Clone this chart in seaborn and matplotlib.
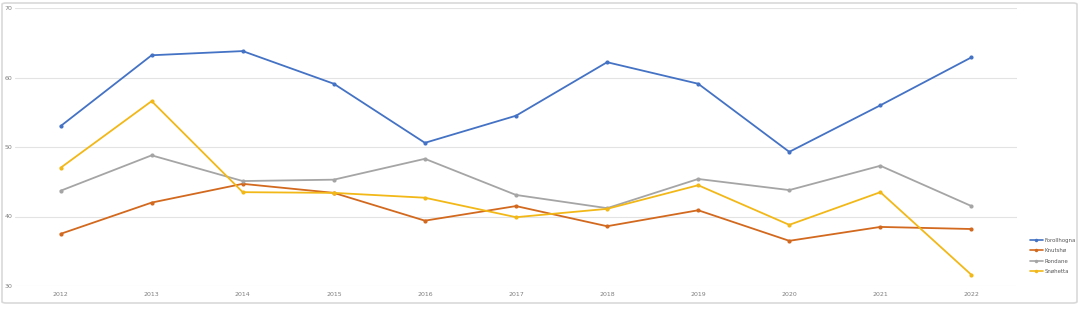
import matplotlib
matplotlib.use("Agg")
import matplotlib.pyplot as plt
from matplotlib.patches import FancyBboxPatch
import seaborn as sns
import pandas as pd

years = [2012, 2013, 2014, 2015, 2016, 2017, 2018, 2019, 2020, 2021, 2022]
forollhogna = [53.0, 63.2, 63.8, 59.1, 50.6, 54.5, 62.2, 59.1, 49.3, 56.0, 62.9]
knutsho = [37.5, 42.0, 44.7, 43.4, 39.4, 41.5, 38.6, 40.9, 36.5, 38.5, 38.2]
rondane = [43.7, 48.8, 45.1, 45.3, 48.3, 43.1, 41.2, 45.4, 43.8, 47.3, 41.5]
snohetta = [47.0, 56.6, 43.5, 43.4, 42.7, 39.9, 41.1, 44.5, 38.8, 43.5, 31.6]

series_names = ["Forollhogna", "Knutshø", "Rondane", "Snøhetta"]
series_values = [forollhogna, knutsho, rondane, snohetta]
colors = ["#4472C4", "#D2691E", "#A5A5A5", "#F2B818"]
y_ticks = [30, 40, 50, 60, 70]

rows = []
for name, vals in zip(series_names, series_values):
    for yr, v in zip(years, vals):
        rows.append({"År": yr, "Verdi": v, "Område": name})
df = pd.DataFrame(rows)

sns.set_theme(style="white")
plt.rcParams["font.family"] = ["DejaVu Sans"]

fig = plt.figure(figsize=(10.8, 3.22), dpi=100)
fig.patch.set_facecolor("white")

# chart frame
frame = FancyBboxPatch((2 / 1080, 19 / 322), 1075 / 1080, 300 / 322,
                       boxstyle="round,pad=0,rounding_size=0.004",
                       transform=fig.transFigure, facecolor="none",
                       edgecolor="#D9D9D9", linewidth=1.2, zorder=-1)
fig.patches.append(frame)

ax = fig.add_axes([15 / 1080, 36 / 322, 1002 / 1080, 278 / 322])
ax.set_facecolor("none")
ax.set_zorder(2)

sns.lineplot(data=df, x="År", y="Verdi", hue="Område", palette=colors,
             marker="o", markersize=3, markeredgewidth=0, linewidth=1.3,
             ax=ax, legend=False)

ax.set_xlim(years[0] - 0.5, years[-1] + 0.5)
ax.set_ylim(30, 70)
ax.set_yticks(y_ticks)
ax.set_xticks(years)
ax.set_xticklabels([str(y) for y in years])
ax.yaxis.grid(True, color="#E3E3E3", linewidth=0.8)
ax.xaxis.grid(False)
for s in ax.spines.values():
    s.set_visible(False)
ax.tick_params(axis="both", length=0, labelsize=4.5, labelcolor="#7F7F7F")
ax.tick_params(axis="y", pad=2)
ax.tick_params(axis="x", pad=4)
ax.set_xlabel("")
ax.set_ylabel("")

handles = [plt.Line2D([0], [0], color=c, marker="o", markersize=2.5,
                      markeredgewidth=0, linewidth=1.2) for c in colors]
fig.legend(handles, series_names, loc="upper left",
           bbox_to_anchor=(1025 / 1080, 1 - 233 / 322), frameon=False,
           fontsize=3.9, handlelength=2.4, handletextpad=0.3,
           labelspacing=1.0, labelcolor="#595959")

fig.savefig("out.png", dpi=100, facecolor="white")
